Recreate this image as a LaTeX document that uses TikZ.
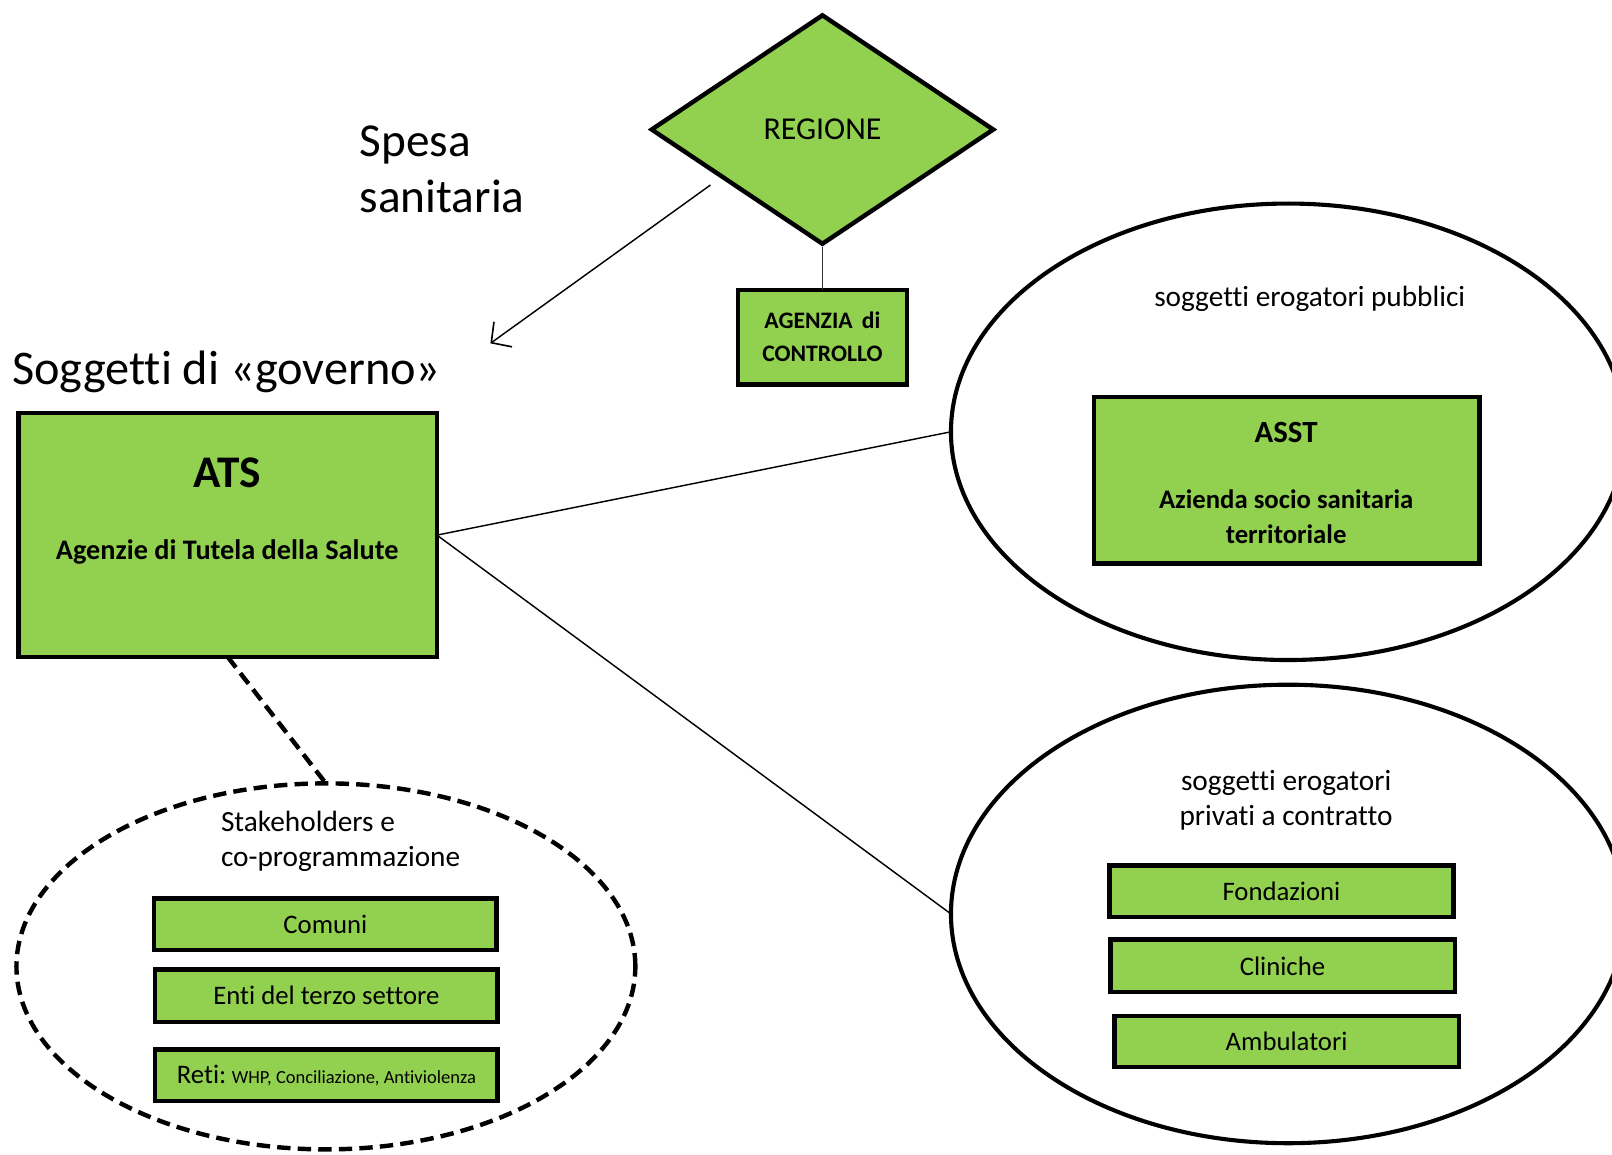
\documentclass[tikz,border=0pt]{standalone}
\usepackage{fontspec}
\setmainfont{Carlito}[Ligatures=NoCommon]
\usetikzlibrary{shapes.geometric,arrows.meta}
\definecolor{ogreen}{RGB}{146,208,80}
\newcommand{\fs}[2]{\fontsize{#1}{#2}\selectfont}
\tikzset{
  gbox/.style={draw=black, fill=ogreen, line width=4.3pt, rectangle, inner sep=0pt, outer sep=0pt},
  ovalbox/.style={draw=black, ellipse, line width=4pt, inner sep=0pt, outer sep=0pt},
  dashoval/.style={draw=black, ellipse, line width=4.3pt, dash pattern=on 13pt off 7pt, inner sep=0pt, outer sep=0pt},
  thinlink/.style={draw=black, line width=1.4pt},
  lbl/.style={inner sep=0pt, outer sep=0pt, text=black}
}
\begin{document}
\begin{tikzpicture}[x=1pt,y=-1pt]
\useasboundingbox[fill=white] (0,0) rectangle (1568,1123);

% Regione diamond and control agency
\node[diamond, draw=black, fill=ogreen, line width=4.3pt, inner sep=0pt, aspect=1.49,
      minimum width=334, minimum height=224, font=\fs{31}{36}] (regione) at (800,126) {REGIONE};
\node[gbox, minimum width=164, minimum height=92, align=center, font=\bfseries\fs{23}{32}] (agenzia) at (800,328) {AGENZIA\, di\\CONTROLLO};
\draw[draw=black!80, line width=1.5pt] (regione.south) -- (agenzia.north);

% Spesa sanitaria arrow
\coordinate (arrS) at (691,180);
\coordinate (arrE) at (477,334);
\draw[thinlink, -{Straight Barb[length=14pt,width=30pt,line width=1.6pt]}] (arrS) -- (arrE);
\node[lbl, anchor=base west, align=left, font=\fs{46}{55}] (spesa) at (350,207) {Spesa\\sanitaria};

% Soggetti di governo
\node[lbl, anchor=base west, font=\fs{47}{55}] (gov) at (12,374) {Soggetti di «governo»};

% ATS
\node[gbox, minimum width=407, minimum height=237] (ats) at (221.5,520.5) {};
\node[lbl, anchor=base, font=\bfseries\fs{44}{50}] (atst) at (221,474) {ATS};
\node[lbl, anchor=base, font=\bfseries\fs{27.5}{32}] (atss) at (221,544) {Agenzie di Tutela della Salute};

% Public providers
\node[ovalbox, minimum width=656, minimum height=444] (pub) at (1253,420) {};
\node[lbl, anchor=base, font=\fs{28.5}{34}] (pubt) at (1274,298) {soggetti erogatori pubblici};
\node[gbox, minimum width=375, minimum height=162] (asst) at (1251.5,467) {};
\node[lbl, anchor=base, font=\bfseries\fs{30}{36}] (asstt) at (1251,430) {ASST};
\node[lbl, anchor=base, align=center, font=\bfseries\fs{26}{34}] (assts) at (1251,529) {Azienda socio sanitaria\\territoriale};

% Private providers
\node[ovalbox, minimum width=656, minimum height=446] (priv) at (1253,889) {};
\node[lbl, anchor=base, align=center, font=\fs{28.5}{34}] (privt) at (1251,803) {soggetti erogatori\\privati a contratto};
\node[gbox, minimum width=335, minimum height=50, font=\fs{26}{30}] (fond) at (1246.5,867) {Fondazioni};
\node[gbox, minimum width=335, minimum height=51, font=\fs{26}{30}] (clin) at (1247.5,939.5) {Cliniche};
\node[gbox, minimum width=335, minimum height=50, font=\fs{26}{30}] (amb) at (1251.5,1013) {Ambulatori};

% Links ATS -> providers
\draw[thinlink] (ats.east) -- (pub.west);
\draw[thinlink] (ats.east) -- (priv.west);

% Stakeholders
\node[dashoval, minimum width=602, minimum height=356] (stake) at (317,940) {};
\draw[draw=black, line width=4.3pt, dash pattern=on 13pt off 7pt] (ats.south) -- (stake.north);
\node[lbl, anchor=base west, align=left, font=\fs{28.5}{34}] (staket) at (215,843) {Stakeholders e\\co-programmazione};
\node[gbox, minimum width=333, minimum height=50, font=\fs{26}{30}] (comuni) at (316.5,899) {Comuni};
\node[gbox, minimum width=333, minimum height=51, font=\fs{26}{30}] (enti) at (317.5,968.5) {Enti del terzo settore};
\node[gbox, minimum width=333, minimum height=50, font=\fs{26}{30}] (reti) at (317.5,1046) {Reti:{\fs{18}{22} WHP, Conciliazione, Antiviolenza}};
\end{tikzpicture}
\end{document}
